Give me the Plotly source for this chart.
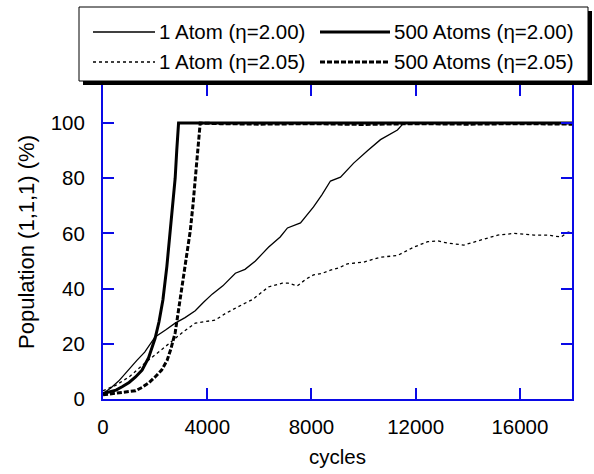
import plotly.graph_objects as go

# ---------------- data ----------------
x_500_200 = [0, 250, 500, 750, 1000, 1250, 1500, 1750, 2000, 2150, 2300, 2450, 2580, 2680, 2770, 2830, 2880, 2900, 4000, 6000, 8000, 10000, 12000, 14000, 16000, 18000]
y_500_200 = [2, 2.5, 3.2, 4.5, 6, 8, 10.5, 15, 22, 28, 36, 48, 60, 70, 80, 90, 100, 100, 100, 100, 100, 100, 100, 100, 100, 100]

x_500_205 = [0, 500, 1000, 1250, 1500, 1750, 2000, 2250, 2460, 2600, 2770, 2900, 3080, 3200, 3350, 3450, 3540, 3640, 3730, 4500, 6000, 8000, 10000, 12000, 14000, 16000, 18000]
y_500_205 = [1.5, 2, 2.6, 3, 4.2, 5.8, 8, 10.5, 14, 18, 24, 32, 43, 51, 61, 70, 79, 90, 100, 99.8, 99.6, 99.8, 99.5, 99.8, 99.6, 99.8, 99.6]

x_1_200 = [0, 300, 600, 960, 1300, 1600, 2000, 2400, 2770, 3150, 3540, 3850, 4190, 4600, 5080, 5450, 5850, 6100, 6350, 6800, 7080, 7580, 8080, 8400, 8730, 9115, 9620, 10150, 10650, 11300, 11540, 12000, 14000, 16000, 18000]
y_1_200 = [2, 4, 6.5, 10.5, 14, 17, 22.5, 25, 27.5, 29.5, 32, 35, 38, 41, 45.6, 47, 50, 52.5, 55, 58.7, 62, 63.8, 69.6, 74, 79, 80.4, 85.5, 90, 94, 97.5, 100, 100, 100, 100, 100]

x_1_205 = [0, 500, 1000, 1350, 1730, 2200, 2650, 3100, 3540, 4000, 4310, 4700, 5080, 5400, 5730, 6050, 6350, 6880, 7100, 7460, 7800, 8080, 8400, 8730, 9050, 9380, 10000, 10650, 11300, 11920, 12460, 12850, 13230, 13850, 14500, 15150, 15770, 16200, 16540, 17080, 17580, 17850, 18000]
y_1_205 = [3, 5, 8, 11, 14, 17.5, 21, 24.5, 27.5, 28, 28.6, 31, 33, 34.5, 36, 38.5, 40.6, 42, 42, 41, 43.5, 45, 45.5, 46.7, 47.5, 49, 49.6, 51.4, 52, 55, 57, 57.3, 56.5, 55.8, 57.6, 59.4, 60, 59.6, 59.4, 59.4, 58.7, 60.5, 60.5]

x_ticks = [0, 4000, 8000, 12000, 16000]
y_ticks = [0, 20, 40, 60, 80, 100]
legend_names = ["1 Atom (η=2.00)", "500 Atoms (η=2.00)", "1 Atom (η=2.05)", "500 Atoms (η=2.05)"]

# ---------------- figure ----------------
W, H = 594, 474
ML, MR, MT, MB = 103, 22, 85, 75
FONT = "Liberation Sans, Arial, sans-serif"
FS = 20.5
AX = "#0a0ae6"

styles = [
    (x_1_200, y_1_200, dict(color="black", width=1.3)),
    (x_500_200, y_500_200, dict(color="black", width=3)),
    (x_1_205, y_1_205, dict(color="black", width=1.3, dash="3px,3px")),
    (x_500_205, y_500_205, dict(color="black", width=3, dash="5px,2px")),
]

fig = go.Figure()
for (xs, ys, ln), name in zip(styles, legend_names):
    fig.add_trace(go.Scatter(x=xs, y=ys, mode="lines", line=ln, name=name,
                             showlegend=False, cliponaxis=True))

pw = W - ML - MR
ph = H - MT - MB


def px(xp):
    return (xp - ML) / pw


def py(yp):
    return (H - MB - yp) / ph


shapes = []
# legend shadow and box
shapes.append(dict(type="rect", xref="paper", yref="paper", x0=px(83), x1=px(592), y0=py(11), y1=py(85),
                   fillcolor="black", line=dict(width=0), layer="above"))
shapes.append(dict(type="rect", xref="paper", yref="paper", x0=px(79), x1=px(588), y0=py(7), y1=py(81),
                   fillcolor="white", line=dict(color="black", width=1), layer="above"))

rows = [32, 62]
cols = [(93, 155, 157), (320, 390, 392)]
annotations = []
for i, (xs, ys, ln) in enumerate(styles):
    r = rows[i // 2]
    c0, c1, tx = cols[i % 2]
    shapes.append(dict(type="line", xref="paper", yref="paper", x0=px(c0), x1=px(c1), y0=py(r), y1=py(r),
                       line=ln, layer="above"))
    annotations.append(dict(text=legend_names[i], xref="paper", yref="paper", x=px(tx), y=py(r),
                            xanchor="left", yanchor="middle", showarrow=False,
                            font=dict(family=FONT, size=FS, color="black")))

fig.update_layout(
    width=W, height=H,
    margin=dict(l=ML, r=MR, t=MT, b=MB),
    paper_bgcolor="white", plot_bgcolor="white",
    shapes=shapes, annotations=annotations,
    showlegend=False,
    font=dict(family=FONT, size=FS, color="black"),
)
fig.update_xaxes(range=[0, 18000], tickvals=x_ticks, ticktext=[str(v) for v in x_ticks],
                 ticks="inside", ticklen=11, tickwidth=2, tickcolor=AX,
                 showline=True, linecolor=AX, linewidth=2, mirror="ticks",
                 showgrid=False, zeroline=False, ticklabelstandoff=8, automargin=False,
                 tickfont=dict(family=FONT, size=FS, color="black"),
                 title=dict(text="cycles", standoff=13, font=dict(family=FONT, size=FS, color="black")))
fig.update_yaxes(range=[0, 113.8], tickvals=y_ticks, ticktext=[str(v) for v in y_ticks],
                 ticks="inside", ticklen=11, tickwidth=2, tickcolor=AX,
                 showline=True, linecolor=AX, linewidth=2, mirror="ticks",
                 showgrid=False, zeroline=False, ticklabelstandoff=12, automargin=False,
                 tickfont=dict(family=FONT, size=FS, color="black"),
                 title=dict(text="Population (1,1,1) (%)", standoff=10, font=dict(family=FONT, size=22, color="black")))

fig.write_html("out.html")
